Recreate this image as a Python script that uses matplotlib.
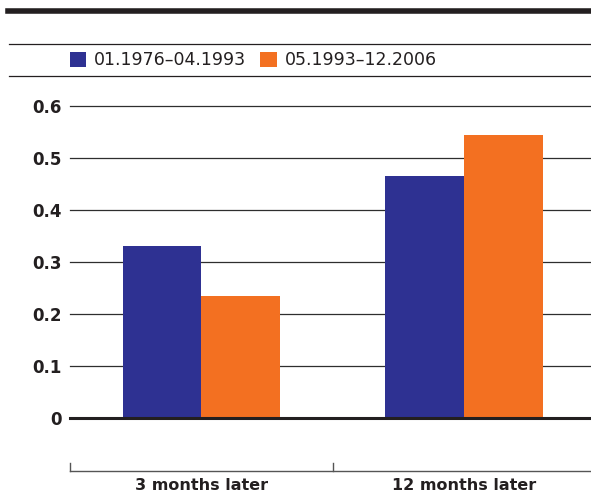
import matplotlib.pyplot as plt
import matplotlib.transforms as mtransforms
from matplotlib.patches import Patch
from matplotlib.lines import Line2D
import numpy as np

# data
horizons = ['3 months later', '12 months later']
periods = ['01.1976\u201304.1993', '05.1993\u201312.2006']
early = [0.33, 0.465]
late = [0.235, 0.545]
yticks = [0, 0.1, 0.2, 0.3, 0.4, 0.5, 0.6]
ylabels = ['0', '0.1', '0.2', '0.3', '0.4', '0.5', '0.6']

blue = '#2e3192'
orange = '#f37021'
dark = '#231f20'

W, H = 591, 493
fig = plt.figure(figsize=(W / 100, H / 100), dpi=100)
plt.rcParams['font.family'] = 'DejaVu Sans'

# main axes: x from -0.5 (px 70) to 1.5 (px 595), y zero at px 418, 0.1 = 52px
ymax = 0.62
ax = fig.add_axes([70 / W, (H - 418) / H, 525 / W, ymax * 520 / H])
ax.set_xlim(-0.5, 1.5)
ax.set_ylim(0, ymax)
for s in ax.spines.values():
	s.set_visible(False)
ax.set_xticks([])
ax.set_yticks(yticks)
ax.set_yticklabels(ylabels, fontsize=12, fontweight='bold', color=dark)
ax.tick_params(axis='y', length=0, pad=6)
ax.patch.set_alpha(0)

for v in yticks[1:]:
	ax.axhline(v, color='#2e2e2e', lw=0.9, zorder=0, clip_on=False)
ax.axhline(0, color=dark, lw=2.2, zorder=3, clip_on=False)

x = np.arange(len(horizons))
w = 0.3
ax.bar(x - w / 2, early, w, color=blue, zorder=2, linewidth=0)
ax.bar(x + w / 2, late, w, color=orange, zorder=2, linewidth=0)

# category axis drawn below
tr = mtransforms.blended_transform_factory(ax.transData, fig.transFigure)
yl = (H - 471) / H
fig.add_artist(Line2D([-0.5, 1.5], [yl, yl], transform=tr, color='#555555', lw=1.0, clip_on=False))
for b in [-0.5, 0.5, 1.5]:
	fig.add_artist(Line2D([b, b], [yl, yl + 8 / H], transform=tr, color='#555555', lw=1.0))
for i, lab in enumerate(horizons):
	fig.text(x[i], (H - 486) / H, lab, transform=tr, ha='center', va='center',
		fontsize=11.5, fontweight='bold', color=dark)

# header rules
fig.add_artist(Line2D([8 / W, 1], [1 - 10.7 / H, 1 - 10.7 / H], color=dark, lw=4.0))
fig.add_artist(Line2D([9 / W, 1], [1 - 44 / H, 1 - 44 / H], color=dark, lw=0.9))
fig.add_artist(Line2D([9 / W, 1], [1 - 76 / H, 1 - 76 / H], color=dark, lw=0.9))

handles = [Patch(facecolor=blue, edgecolor='none'), Patch(facecolor=orange, edgecolor='none')]
fig.legend(handles, periods, loc='center left', bbox_to_anchor=(70 / W, 1 - 60 / H),
	ncol=2, frameon=False, fontsize=12.5, handlelength=0.95, handleheight=0.95,
	handletextpad=0.45, columnspacing=0.8, borderpad=0, borderaxespad=0,
	labelcolor=dark)

fig.savefig('out.png', dpi=100)
